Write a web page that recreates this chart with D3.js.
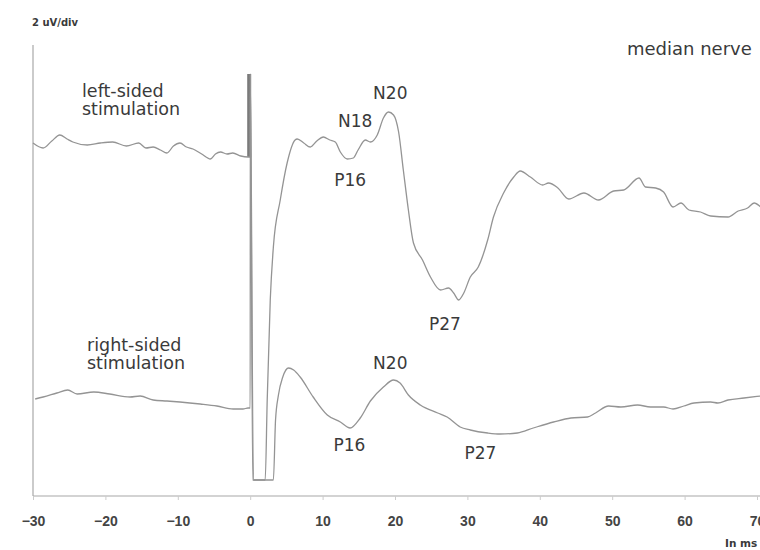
<!DOCTYPE html>
<html>
<head>
<meta charset="utf-8">
<script src="https://cdn.jsdelivr.net/npm/d3@7"></script>
<style>
  html, body { margin: 0; padding: 0; background: #fff; }
  svg { display: block; }
  .lbl { font-family: "DejaVu Sans", sans-serif; fill: #3a3a3a; }
  .tick text { font-family: "Liberation Sans", Arial, sans-serif; font-weight: bold; fill: #444; }
</style>
</head>
<body>
<svg id="chart" width="760" height="550"></svg>
<script>
// --- SEP recordings, median nerve: latency (ms) / amplitude (uV, negative up) ---
const X_TICKS = [-30, -20, -10, 0, 10, 20, 30, 40, 50, 60, 70];

// baseline offset of each trace on the shared uV scale
const LEFT_OFFSET = -6.5;
const RIGHT_OFFSET = 6.15;

const LEFT_TRACE = [
  [-30, -0.2], [-28.6, 0.05], [-27.4, -0.3], [-26.3, -0.6], [-25.3, -0.4], [-24.5, -0.25],
  [-22.5, -0.1], [-20.7, -0.2], [-19, -0.25], [-17.1, -0.05], [-15.4, -0.2], [-14.4, 0.05],
  [-13.4, 0.0], [-12.4, 0.15], [-11.5, 0.3], [-10.6, -0.05], [-9.7, -0.2], [-8.8, 0.0],
  [-7.9, 0.1], [-6.7, 0.35], [-5.5, 0.6], [-4.8, 0.35], [-4.1, 0.25], [-3.2, 0.35],
  [-2.4, 0.3], [-1.3, 0.45], [-0.3, 0.5], [0, 0.5],
  // stimulus artifact (off scale)
  [0.01, -20], [0.45, 30], [2.07, 30],
  [2.35, 12.65], [2.77, 7.65], [3.2, 5.0], [4.15, 2.65], [5.1, 0.8], [6.2, -0.35], [6.5, -0.4],
  [7.4, -0.2], [8.3, 0.0], [9.2, -0.3], [10.1, -0.5], [11.0, -0.35], [11.75, -0.25],
  [12.45, 0.25], [13.4, 0.6], [14.25, 0.55], [14.9, 0.15], [15.9, -0.35], [16.6, -0.25],
  [17.55, -0.6], [18.4, -1.45], [19.1, -1.75], [19.8, -1.6], [20.5, -0.75], [21.15, 1.15],
  [21.85, 3.15], [22.55, 4.8], [23.8, 5.65], [24.9, 6.5], [26.3, 7.15], [27.4, 7.05],
  [28.1, 7.3], [28.8, 7.65], [29.5, 7.3], [30.4, 6.5], [31.5, 6.0], [32.8, 4.65],
  [33.6, 3.5], [35.0, 2.3], [36.4, 1.5], [37.3, 1.2], [38.7, 1.5], [40.4, 1.9],
  [41.2, 1.8], [42.5, 2.05], [44.0, 2.6], [46.1, 2.3], [48.1, 2.65], [50.2, 2.2],
  [51.6, 2.15], [53.7, 1.55], [54.6, 2.0], [56.0, 2.05], [57.1, 2.25], [58.4, 3.0],
  [59.5, 2.8], [60.6, 3.15], [62.2, 3.25], [63.6, 3.45], [66.0, 3.5], [67.4, 3.2],
  [68.7, 3.05], [69.6, 2.8], [70.5, 3.0]
];

const RIGHT_TRACE = [
  [-29.7, -0.05], [-28.6, -0.15], [-26.7, -0.35], [-25.2, -0.5], [-23.9, -0.3], [-21.6, -0.4],
  [-19.4, -0.3], [-16.6, -0.15], [-15.2, -0.2], [-13.4, 0.0], [-11.5, 0.05], [-9.7, 0.1],
  [-6.9, 0.2], [-4.6, 0.3], [-2.35, 0.45], [-1.0, 0.45], [-0.3, 0.4], [0, 0.4],
  // stimulus artifact (off scale)
  [0.02, -30], [0.35, 30], [3.2, 30],
  [3.5, 1.0], [3.9, -0.25], [4.5, -1.15], [5.3, -1.6], [6.0, -1.5], [6.9, -1.15],
  [8.7, -0.15], [10.65, 0.75], [12.45, 1.1], [13.8, 1.4], [15.2, 0.9], [16.6, 0.05],
  [18.4, -0.65], [19.8, -1.0], [20.7, -0.85], [21.85, -0.25], [23.5, 0.25],
  [25.9, 0.65], [27.2, 0.85], [29.0, 1.35], [30.4, 1.5], [32.8, 1.65], [34.5, 1.7],
  [36.9, 1.65], [39.1, 1.4], [41.9, 1.1], [44.3, 0.9], [46.6, 0.85], [47.7, 0.65],
  [49.5, 0.3], [51.2, 0.35], [53.5, 0.25], [55.3, 0.35], [57.1, 0.35], [58.4, 0.45],
  [59.9, 0.3], [61.3, 0.15], [63.6, 0.1], [64.6, 0.15], [66.0, 0.0], [68.2, -0.1], [70.5, -0.2]
];

// peak labels: name, trace, latency, amplitude of the label baseline
const PEAK_NAMES = ['N20', 'N18', 'P16', 'P27', 'N20', 'P16', 'P27'];
const PEAK_TRACE = ['left', 'left', 'left', 'left', 'right', 'right', 'right'];
const PEAK_T = [19.35, 14.5, 13.8, 26.9, 19.35, 13.7, 31.8];
const PEAK_V = [-2.4, -1.0, 1.95, 9.15, -1.55, 2.55, 2.95];

const W = 760, H = 550;
const svg = d3.select('#chart');

const x = d3.scaleLinear().domain([-30, 70]).range([33, 757]);
const y = d3.scaleLinear().domain([-10.15, 10.15]).range([74, 480]).clamp(true);

const offsetOf = { left: LEFT_OFFSET, right: RIGHT_OFFSET };

// axes
svg.append('line')
  .attr('x1', 33).attr('x2', 33).attr('y1', 45).attr('y2', 496)
  .attr('stroke', '#a8a8a8').attr('stroke-width', 1.2);

const xAxis = svg.append('g')
  .attr('transform', 'translate(0,496)')
  .call(d3.axisBottom(x).tickValues(X_TICKS).tickFormat(d3.format('d')).tickSize(4).tickPadding(16));
xAxis.select('.domain').attr('stroke', '#a8a8a8').attr('stroke-width', 1.2)
  .attr('d', `M33,0H${W}`);
xAxis.selectAll('.tick line').attr('stroke', '#cccccc');
xAxis.selectAll('.tick text').attr('font-size', 14);

// stimulus marker at t = 0 (clipped top down to left trace baseline)
svg.append('line')
  .attr('x1', x(0) - 1).attr('x2', x(0) - 1)
  .attr('y1', y.range()[0]).attr('y2', y(LEFT_OFFSET + 0.5))
  .attr('stroke', '#7a7a7a').attr('stroke-width', 4);

// traces
const line = off => d3.line()
  .x(d => x(d[0]))
  .y(d => y(off + d[1]))
  .curve(d3.curveMonotoneX);

svg.append('path')
  .datum(LEFT_TRACE)
  .attr('d', line(LEFT_OFFSET))
  .attr('fill', 'none').attr('stroke', '#949494').attr('stroke-width', 1.3);

svg.append('path')
  .datum(RIGHT_TRACE)
  .attr('d', line(RIGHT_OFFSET))
  .attr('fill', 'none').attr('stroke', '#949494').attr('stroke-width', 1.3);

// peak labels
PEAK_NAMES.forEach((name, i) => {
  svg.append('text')
    .attr('class', 'lbl')
    .attr('x', x(PEAK_T[i]))
    .attr('y', y(offsetOf[PEAK_TRACE[i]] + PEAK_V[i]))
    .attr('text-anchor', 'middle')
    .attr('font-size', 17)
    .text(name);
});

// trace names
const names = [
  { lines: ['left-sided', 'stimulation'], x: 82, y: 97 },
  { lines: ['right-sided', 'stimulation'], x: 87, y: 351 }
];
names.forEach(n => {
  n.lines.forEach((s, j) => {
    svg.append('text').attr('class', 'lbl')
      .attr('x', n.x).attr('y', n.y + j * 17.5)
      .attr('font-size', 17.5)
      .text(s);
  });
});

svg.append('text').attr('class', 'lbl')
  .attr('x', 627).attr('y', 55).attr('font-size', 18)
  .text('median nerve');

svg.append('text').attr('class', 'lbl')
  .attr('x', 32).attr('y', 26).attr('font-size', 10).attr('font-weight', 'bold')
  .text('2 uV/div');

svg.append('text').attr('class', 'lbl')
  .attr('x', 725).attr('y', 547).attr('font-size', 10.5).attr('font-weight', 'bold')
  .text('In ms');
</script>
</body>
</html>
